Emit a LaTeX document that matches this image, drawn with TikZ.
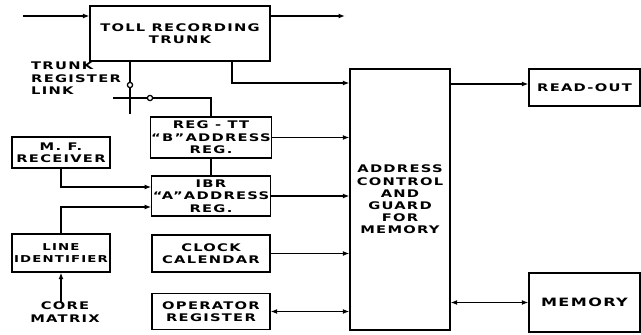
\documentclass[tikz,border=0pt]{standalone}
\usepackage{fontspec}
\newfontfamily\hand[FakeStretch=1.4,LetterSpace=12]{DejaVu Sans}
\usetikzlibrary{arrows.meta}
\begin{document}
\begin{tikzpicture}[x=1pt,y=-1pt,
  blk/.style={draw, line width=1.3pt, rectangle, inner sep=1pt, align=center,
    font=\hand\bfseries\fontsize{10.5}{12.5}\selectfont},
  lbl/.style={inner sep=0pt, font=\hand\bfseries\fontsize{10.5}{12.5}\selectfont},
  conn/.style={line width=1.25pt},
  heavy/.style={line width=2.6pt},
  arr/.style={conn, -{Latex[length=6.5pt,width=5pt]}},
  biarr/.style={conn, {Latex[length=6.5pt,width=5pt]}-{Latex[length=6.5pt,width=5pt]}},
  ring/.style={conn, fill=white}
]
\useasboundingbox (0,0) rectangle (641,335);

% boxes
\node[blk, minimum width=180pt, minimum height=55pt] (trunk) at (180,33.5) {TOLL RECORDING\\TRUNK};
\node[blk, minimum width=118pt, minimum height=41pt] (regtt) at (211,137.5) {REG - TT\\“B”ADDRESS\\REG.};
\node[blk, minimum width=118pt, minimum height=40pt] (ibr) at (211,196) {IBR\\“A”ADDRESS\\REG.};
\node[blk, minimum width=98pt, minimum height=31pt] (mf) at (61,152.5) {M. F.\\RECEIVER};
\node[blk, minimum width=98pt, minimum height=38pt, font=\hand\bfseries\fontsize{9.5}{12.5}\selectfont] (lineid) at (61,253) {LINE\\IDENTIFIER};
\node[blk, minimum width=118pt, minimum height=37pt] (clock) at (211,253.5) {CLOCK\\CALENDAR};
\node[blk, minimum width=118pt, minimum height=36pt] (oper) at (211,311.5) {OPERATOR\\REGISTER};
\node[blk, minimum width=100pt, minimum height=261pt, font=\hand\bfseries\fontsize{10.5}{12.2}\selectfont] (addr) at (400,199.5) {ADDRESS\\CONTROL\\AND\\GUARD\\FOR\\MEMORY};
\node[blk, minimum width=111pt, minimum height=37pt, font=\hand\bfseries\fontsize{10.5}{12.5}\selectfont] (readout) at (584.5,87.5) {READ-OUT};
\node[blk, minimum width=111pt, minimum height=59pt, font=\hand\bfseries\fontsize{11.5}{13}\selectfont] (memory) at (584.5,302.5) {MEMORY};

% free labels
\node[lbl, align=left, anchor=north west] (link) at (31,62) {TRUNK\\REGISTER\\LINK};
\node[lbl, align=center, anchor=north] (core) at (65,302) {CORE\\MATRIX};

% coordinates
\coordinate (in) at (23,16);
\coordinate (out) at (345,16);
\coordinate (t1) at (232,83);
\coordinate (c1) at (130,85);
\coordinate (c2) at (150,98);
\coordinate (m1) at (61,187);
\coordinate (l1) at (61,207);
\coordinate (r1) at (450,84);

% connectors
\draw[arr] (in) -- (in -| trunk.west);
\draw[arr] (out -| trunk.east) -- (out);
\draw[arr] (trunk.south -| t1) -- (t1) -- (t1 -| addr.west);

% trunk register link
\draw[conn] (trunk.south -| c1) -- (c1);
\draw[heavy] (130,88) -- (130,114);
\draw[heavy] (113,98) -- (c2);
\draw[conn] (c2) -| (regtt.north);
\draw[ring] (c1) circle (2.6pt);
\draw[ring] (c2) circle (2.6pt);

\draw[arr] (regtt.east) -- (regtt.east -| addr.west);
\draw[conn] (regtt.south) -- (ibr.north);
\draw[arr] (ibr.east) -- (ibr.east -| addr.west);
\draw[arr] (mf.south) |- (m1 -| ibr.west);
\draw[arr] (lineid.north) |- (l1 -| ibr.west);
\draw[arr] (core.north -| lineid.south) -- (lineid.south);
\draw[arr] (clock.east) -- (clock.east -| addr.west);
\draw[biarr] (oper.east) -- (oper.east -| addr.west);
\draw[arr] (r1) -- (r1 -| readout.west);
\draw[biarr] (addr.east |- memory.west) -- (memory.west);
\end{tikzpicture}
\end{document}
